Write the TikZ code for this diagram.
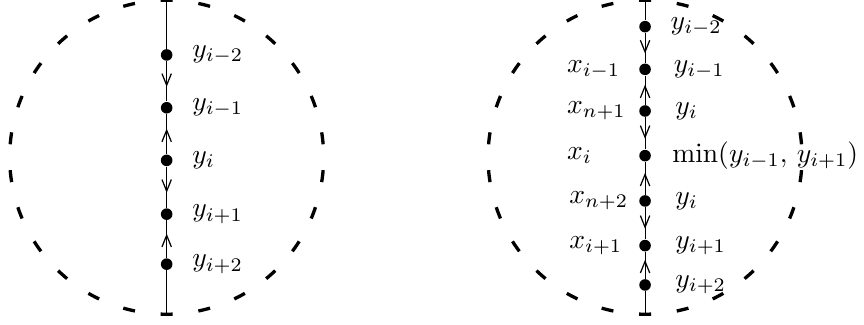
\documentclass[tikz,border=0pt]{standalone}
\usetikzlibrary{arrows.meta,decorations.markings}
\tikzset{
  dot/.style={circle,fill=black,inner sep=0pt,minimum size=4.2pt},
  lbl/.style={anchor=west,inner sep=0pt},
  cdash/.style={line width=1.2pt},
  axisline/.style={line width=0.4pt},
  midarrow/.style={axisline,postaction={decorate},decoration={markings,
    mark=at position 0.5 with {\arrow[xshift=2pt]{Straight Barb[length=4.2pt,width=3.4pt,line width=0.45pt]}}}}
}
\begin{document}
\begin{tikzpicture}
\useasboundingbox (-2.123,-2.125) rectangle (8.883,2.003);
% centres
\coordinate (lc) at (0,0);
\coordinate (rc) at (6.094,0);
% dashed circles
\foreach \k [evaluate=\k as \a using 90+\k*13.8462-2.2] in {0,...,25}{
  \draw[cdash] (lc) ++(\a:2) arc[start angle=\a, delta angle=4.4, radius=2];
  \draw[cdash] (rc) ++(\a:2) arc[start angle=\a, delta angle=4.4, radius=2];
}
% ---- left diagram ----
\coordinate (ltop) at (0,2);
\coordinate (lbot) at (0,-2);
\node[dot] (a1) at (0,1.303) {};
\node[dot] (a2) at (0,0.630) {};
\node[dot] (a3) at (0,-0.040) {};
\node[dot] (a4) at (0,-0.725) {};
\node[dot] (a5) at (0,-1.362) {};
\draw[axisline] (ltop) -- (a1);
\draw[midarrow] (a1) -- (a2);
\draw[midarrow] (a3) -- (a2);
\draw[midarrow] (a3) -- (a4);
\draw[midarrow] (a5) -- (a4);
\draw[axisline] (a5) -- (lbot);
\node[lbl] (la1) at ([xshift=0.32cm]a1) {$y_{i-2}$};
\node[lbl] (la2) at ([xshift=0.32cm]a2) {$y_{i-1}$};
\node[lbl] (la3) at ([xshift=0.32cm]a3) {$y_{i}$};
\node[lbl] (la4) at ([xshift=0.32cm]a4) {$y_{i+1}$};
\node[lbl] (la5) at ([xshift=0.32cm]a5) {$y_{i+2}$};
% ---- right diagram ----
\coordinate (rtop) at (6.094,2);
\coordinate (rbot) at (6.094,-2);
\node[dot] (b1) at (6.094,1.663) {};
\node[dot] (b2) at (6.094,1.120) {};
\node[dot] (b3) at (6.094,0.589) {};
\node[dot] (b4) at (6.094,0.020) {};
\node[dot] (b5) at (6.094,-0.557) {};
\node[dot] (b6) at (6.094,-1.126) {};
\node[dot] (b7) at (6.094,-1.627) {};
\draw[axisline] (rtop) -- (b1);
\draw[midarrow] (b1) -- (b2);
\draw[midarrow] (b3) -- (b2);
\draw[midarrow] (b3) -- (b4);
\draw[midarrow] (b5) -- (b4);
\draw[midarrow] (b5) -- (b6);
\draw[midarrow] (b7) -- (b6);
\draw[axisline] (b7) -- (rbot);
\node[lbl] (rb1) at ([xshift=0.32cm]b1) {$y_{i-2}$};
\node[lbl] (rb2) at ([xshift=0.36cm]b2) {$y_{i-1}$};
\node[lbl] (rb3) at ([xshift=0.38cm]b3) {$y_{i}$};
\node[lbl] (rb4) at ([xshift=0.34cm]b4) {$\min(y_{i-1},\,y_{i+1})$};
\node[lbl] (rb5) at ([xshift=0.38cm]b5) {$y_{i}$};
\node[lbl] (rb6) at ([xshift=0.38cm]b6) {$y_{i+1}$};
\node[lbl] (rb7) at ([xshift=0.38cm]b7) {$y_{i+2}$};
\node[lbl] (lb2) at ([xshift=-1.0cm]b2) {$x_{i-1}$};
\node[lbl] (lb3) at ([xshift=-1.0cm]b3) {$x_{n+1}$};
\node[lbl] (lb4) at ([xshift=-1.0cm]b4) {$x_{i}$};
\node[lbl] (lb5) at ([xshift=-0.97cm]b5) {$x_{n+2}$};
\node[lbl] (lb6) at ([xshift=-0.97cm]b6) {$x_{i+1}$};
\end{tikzpicture}
\end{document}
